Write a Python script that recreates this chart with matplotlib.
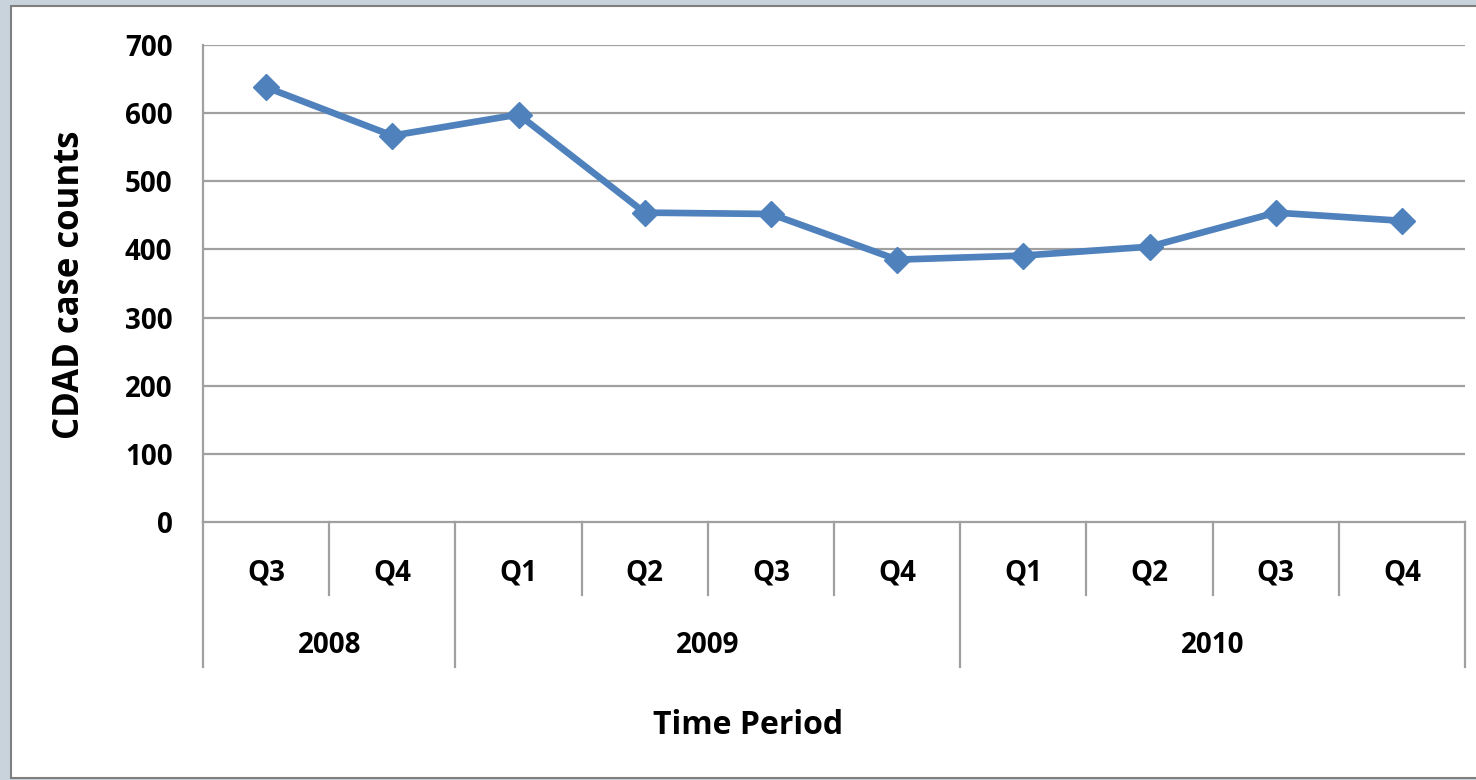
import matplotlib
matplotlib.use("Agg")
import matplotlib.pyplot as plt
from matplotlib.patches import Rectangle

plt.rcParams['font.family'] = ['Open Sans', 'DejaVu Sans']
plt.rcParams['font.weight'] = 'bold'

quarters = ["Q3", "Q4", "Q1", "Q2", "Q3", "Q4", "Q1", "Q2", "Q3", "Q4"]
years = ["2008", "2009", "2010"]
year_spans = [(0, 1), (2, 5), (6, 9)]
cases = [638, 567, 598, 454, 452, 385, 391, 404, 454, 442]
yticks = [0, 100, 200, 300, 400, 500, 600, 700]

grid_col = "#A0A0A0"
blue = "#4F81BD"

fig = plt.figure(figsize=(14.76, 7.8), dpi=100, facecolor="#C9D3DB")
fig.patches.append(Rectangle((11 / 1476, 0.002), 1.0, 1 - 6 / 780 - 0.002,
                             transform=fig.transFigure, facecolor="white",
                             edgecolor="#7F7F7F", linewidth=1.5, zorder=-5))

ax = fig.add_axes([203 / 1476, 1 - 522 / 780, (1465 - 203) / 1476, 477 / 780])
ax.set_facecolor("none")
ax.set_zorder(2)

x = list(range(len(cases)))
ax.plot(x, cases, color=blue, lw=4.8, marker="D", ms=13, mfc=blue, mec=blue, zorder=3)

ax.set_xlim(-0.5, len(cases) - 0.5)
ax.set_ylim(0, 700)
ax.set_yticks(yticks)
ax.set_yticklabels([str(v) for v in yticks], fontsize=20, fontweight="bold")
ax.tick_params(axis="y", length=0, pad=22)
ax.set_xticks([])
for v in yticks[1:]:
    ax.axhline(v, color=grid_col, lw=1.6, zorder=1)
for s in ["top", "right"]:
    ax.spines[s].set_visible(False)
for s in ["left", "bottom"]:
    ax.spines[s].set_color(grid_col)
    ax.spines[s].set_linewidth(1.6)

tr = ax.get_xaxis_transform()
year_edges = [-0.5] + [b + 0.5 for a, b in year_spans]
for i in range(len(cases) + 1):
    xe = i - 0.5
    y0 = -0.304 if xe in year_edges else -0.153
    ax.plot([xe, xe], [0, y0], transform=tr, color=grid_col, lw=1.6, clip_on=False)

for i, q in enumerate(quarters):
    ax.text(i, -0.107, q, transform=tr, ha="center", va="center", fontsize=20, fontweight="bold")
for yr, (a, b) in zip(years, year_spans):
    ax.text((a + b) / 2, -0.258, yr, transform=tr, ha="center", va="center", fontsize=20, fontweight="bold")

fig.text(748 / 1476, 1 - 725 / 780, "Time Period", ha="center", va="center",
         fontsize=23, fontweight="bold")
fig.text(70 / 1476, 1 - 285 / 780, "CDAD case counts", rotation=90, ha="center", va="center",
         fontsize=25, fontweight="bold")

fig.savefig("out.png", dpi=100, facecolor=fig.get_facecolor())
